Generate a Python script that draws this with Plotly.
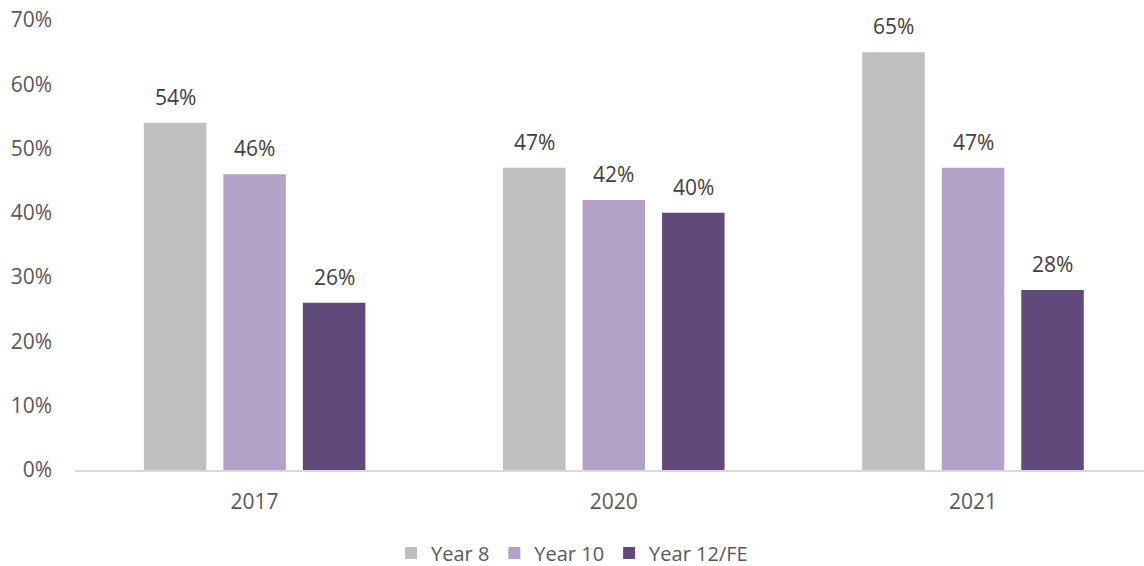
import plotly.graph_objects as go

years = ["2017", "2020", "2021"]
year8 = [0.54, 0.47, 0.65]
year10 = [0.46, 0.42, 0.47]
year12_fe = [0.26, 0.40, 0.28]

series = [
    ("Year 8", year8, "#BFBFBF"),
    ("Year 10", year10, "#B3A2C7"),
    ("Year 12/FE", year12_fe, "#604A7B"),
]

FONT = "Open Sans, Liberation Sans, sans-serif"
SLOT_PX = 79.5  # horizontal pitch between bars inside a group

fig = go.Figure()
for i, (name, vals, color) in enumerate(series):
    fig.add_trace(go.Bar(
        x=years, y=vals, name=name,
        marker=dict(color=color, line=dict(width=0)),
    ))
    # value labels above each bar (category index used as x position)
    for k, v in enumerate(vals):
        fig.add_annotation(
            x=k, y=v, xref="x", yref="y",
            text=f"{v:.0%}", showarrow=False,
            xshift=(i - 1) * SLOT_PX, yshift=26,
            yanchor="middle",
            font=dict(family=FONT, size=21, color="#404040"),
        )

fig.update_layout(
    width=1144, height=566,
    margin=dict(l=75, r=0, t=20, b=96),
    paper_bgcolor="white", plot_bgcolor="white",
    barmode="group", bargap=0.336, bargroupgap=0.214,
    font=dict(family=FONT, color="#595959"),
    showlegend=True,
    legend=dict(
        orientation="h", xref="container", x=0.50, xanchor="center",
        yref="container", y=0.023, yanchor="middle",
        font=dict(family=FONT, size=20, color="#595959"),
        itemwidth=30, traceorder="normal",
    ),
)
fig.update_xaxes(
    type="category", range=[-0.5, 2.476],
    showline=True, linecolor="#D9D9D9", linewidth=2,
    showgrid=False, ticks="", ticklabelstandoff=12,
    tickfont=dict(family=FONT, size=21, color="#595959"),
)
fig.update_yaxes(
    range=[0, 0.7], dtick=0.1, tickformat=".0%",
    showgrid=False, zeroline=False, showline=False, ticks="",
    ticklabelstandoff=22,
    tickfont=dict(family=FONT, size=21, color="#595959"),
)

fig.write_html("out.html")
